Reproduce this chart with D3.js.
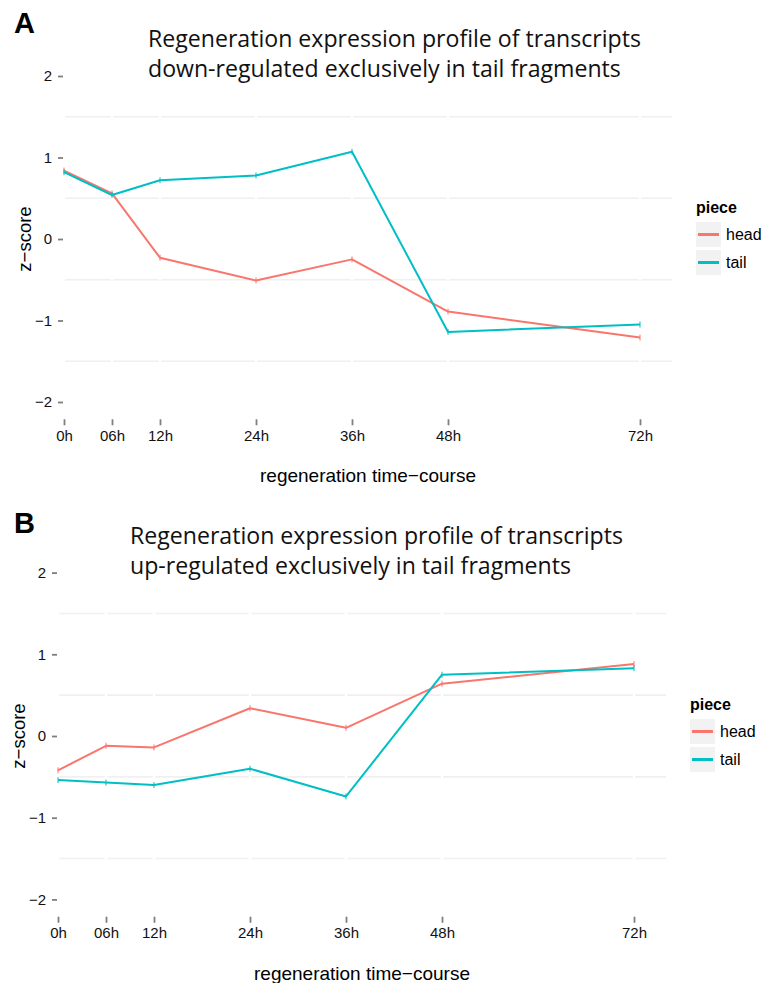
<!DOCTYPE html>
<html>
<head>
<meta charset="utf-8">
<script src="https://cdn.jsdelivr.net/npm/d3@7"></script>
<style>
  body { margin: 0; background: #fff; }
  svg { display: block; }
</style>
</head>
<body>
<div id="chart"></div>
<script>
// time points (hours) and their tick labels
const hours = [0, 6, 12, 24, 36, 48, 72];
const hourLabels = ['0h', '06h', '12h', '24h', '36h', '48h', '72h'];
const yTicks = [-2, -1, 0, 1, 2];
const yMinor = [-1.5, -0.5, 0.5, 1.5];
const pieces = ['head', 'tail'];

// panel A: down-regulated in tail
const downHead = [0.84, 0.56, -0.23, -0.51, -0.25, -0.89, -1.21];
const downTail = [0.82, 0.54, 0.72, 0.78, 1.07, -1.14, -1.05];

// panel B: up-regulated in tail
const upHead = [-0.42, -0.12, -0.14, 0.34, 0.10, 0.64, 0.88];
const upTail = [-0.54, -0.57, -0.60, -0.40, -0.74, 0.75, 0.83];

const titleA = ['Regeneration expression profile of transcripts', 'down-regulated exclusively in tail fragments'];
const titleB = ['Regeneration expression profile of transcripts', 'up-regulated exclusively in tail fragments'];

const width = 761;
const height = 983;
const colors = d3.scaleOrdinal().domain(pieces).range(['#F8766D', '#00BFC4']);
const sans = "'Liberation Sans', Arial, sans-serif";
const titleFont = "'Open Sans', 'Noto Sans', sans-serif";

const svg = d3
	.select('#chart')
	.append('svg')
	.attr('width', width)
	.attr('height', height);

const drawPanel = (cfg) => {
	const g = svg.append('g');

	const x = d3.scaleLinear().domain([0, 76]).range([cfg.left, cfg.left + 608]);
	const y = d3.scaleLinear().domain([-2.2, 2.2]).range([cfg.zero + 2.2 * cfg.unit, cfg.zero - 2.2 * cfg.unit]);
	const [x0, x1] = x.range();
	const [yb, yt] = y.range();

	// minor grid (major lines are white on white)
	g.selectAll('.minor')
		.data(yMinor)
		.enter()
		.append('line')
		.attr('x1', x0)
		.attr('x2', x1)
		.attr('y1', (d) => y(d))
		.attr('y2', (d) => y(d))
		.attr('stroke', '#f0f0f0')
		.attr('stroke-width', 1.6);

	g.selectAll('.vmajor')
		.data(hours)
		.enter()
		.append('line')
		.attr('x1', (d) => x(d))
		.attr('x2', (d) => x(d))
		.attr('y1', yt)
		.attr('y2', yb)
		.attr('stroke', '#fff')
		.attr('stroke-width', 2.5);

	// panel letter
	g.append('text')
		.attr('x', 14)
		.attr('y', cfg.letterY)
		.attr('font-family', sans)
		.attr('font-weight', 'bold')
		.attr('font-size', 29)
		.text(cfg.letter);

	// title, left aligned, fitted to width
	cfg.title.forEach((line, i) => {
		const t = g.append('text')
			.attr('x', cfg.titleX)
			.attr('y', cfg.titleY + i * 30)
			.attr('font-family', titleFont)
			.attr('font-size', 20)
			.attr('fill', '#111')
			.text(line);
		if (i === 0) {
			const len = t.node().getComputedTextLength();
			cfg.titleSize = 20 * 493 / len;
		}
		t.attr('font-size', cfg.titleSize);
	});

	// y axis
	const yAxis = d3.axisLeft(y)
		.tickValues(yTicks)
		.tickSize(5)
		.tickPadding(6)
		.tickFormat((d) => d3.format('d')(d).replace('-', '\u2212'));
	const ya = g.append('g').attr('transform', `translate(${x0 - 1},0)`).call(yAxis);
	ya.select('.domain').remove();
	ya.selectAll('line').attr('stroke', '#7f7f7f').attr('stroke-width', 1.8);
	ya.selectAll('text').attr('font-family', sans).attr('font-size', 15).attr('fill', '#111');

	// x axis
	const xAxis = d3.axisBottom(x)
		.tickValues(hours)
		.tickSize(6)
		.tickPadding(5)
		.tickFormat((d, i) => hourLabels[i]);
	const xa = g.append('g').attr('transform', `translate(0,${yb + 1})`).call(xAxis);
	xa.select('.domain').remove();
	xa.selectAll('line').attr('stroke', '#7f7f7f').attr('stroke-width', 1.8);
	xa.selectAll('text').attr('font-family', sans).attr('font-size', 15).attr('fill', '#111');

	// axis titles
	g.append('text')
		.attr('x', (x0 + x1) / 2)
		.attr('y', yb + 64)
		.attr('text-anchor', 'middle')
		.attr('font-family', sans)
		.attr('font-size', 19)
		.text('regeneration time\u2212course');

	g.append('text')
		.attr('transform', `translate(${cfg.left - 33},${cfg.zero}) rotate(-90)`)
		.attr('text-anchor', 'middle')
		.attr('font-family', sans)
		.attr('font-size', 18.5)
		.text('z\u2212score');

	// lines
	const line = d3.line()
		.x((d, i) => x(hours[i]))
		.y((d) => y(d));

	cfg.series.forEach((vals, k) => {
		g.append('path')
			.datum(vals)
			.attr('fill', 'none')
			.attr('stroke', colors(pieces[k]))
			.attr('stroke-width', 2)
			.attr('stroke-linejoin', 'round')
			.attr('d', line);

		g.selectAll(`.mark-${k}`)
			.data(vals)
			.enter()
			.append('line')
			.attr('x1', (d, i) => x(hours[i]))
			.attr('x2', (d, i) => x(hours[i]))
			.attr('y1', (d) => y(d) - 3)
			.attr('y2', (d) => y(d) + 3)
			.attr('stroke', colors(pieces[k]))
			.attr('stroke-width', 1);
	});

	// legend
	const lx = x1 + 24;
	g.append('text')
		.attr('x', lx)
		.attr('y', cfg.legendY - 9)
		.attr('font-family', sans)
		.attr('font-weight', 'bold')
		.attr('font-size', 16)
		.text('piece');

	pieces.forEach((p, k) => {
		const ky = cfg.legendY + k * 28;
		g.append('rect')
			.attr('x', lx)
			.attr('y', ky)
			.attr('width', 25)
			.attr('height', 25)
			.attr('fill', '#f2f2f2');
		g.append('line')
			.attr('x1', lx + 2)
			.attr('x2', lx + 23)
			.attr('y1', ky + 12.5)
			.attr('y2', ky + 12.5)
			.attr('stroke', colors(p))
			.attr('stroke-width', 3);
		g.append('text')
			.attr('x', lx + 30)
			.attr('y', ky + 12.5)
			.attr('dy', '0.35em')
			.attr('font-family', sans)
			.attr('font-size', 16)
			.text(p);
	});
};

drawPanel({
	letter: 'A', letterY: 33,
	title: titleA, titleX: 148, titleY: 47,
	left: 64, zero: 239, unit: 81.5,
	legendY: 222,
	series: [downHead, downTail]
});

drawPanel({
	letter: 'B', letterY: 533,
	title: titleB, titleX: 130, titleY: 544,
	left: 58, zero: 736, unit: 81.7,
	legendY: 719,
	series: [upHead, upTail]
});
</script>
</body>
</html>
